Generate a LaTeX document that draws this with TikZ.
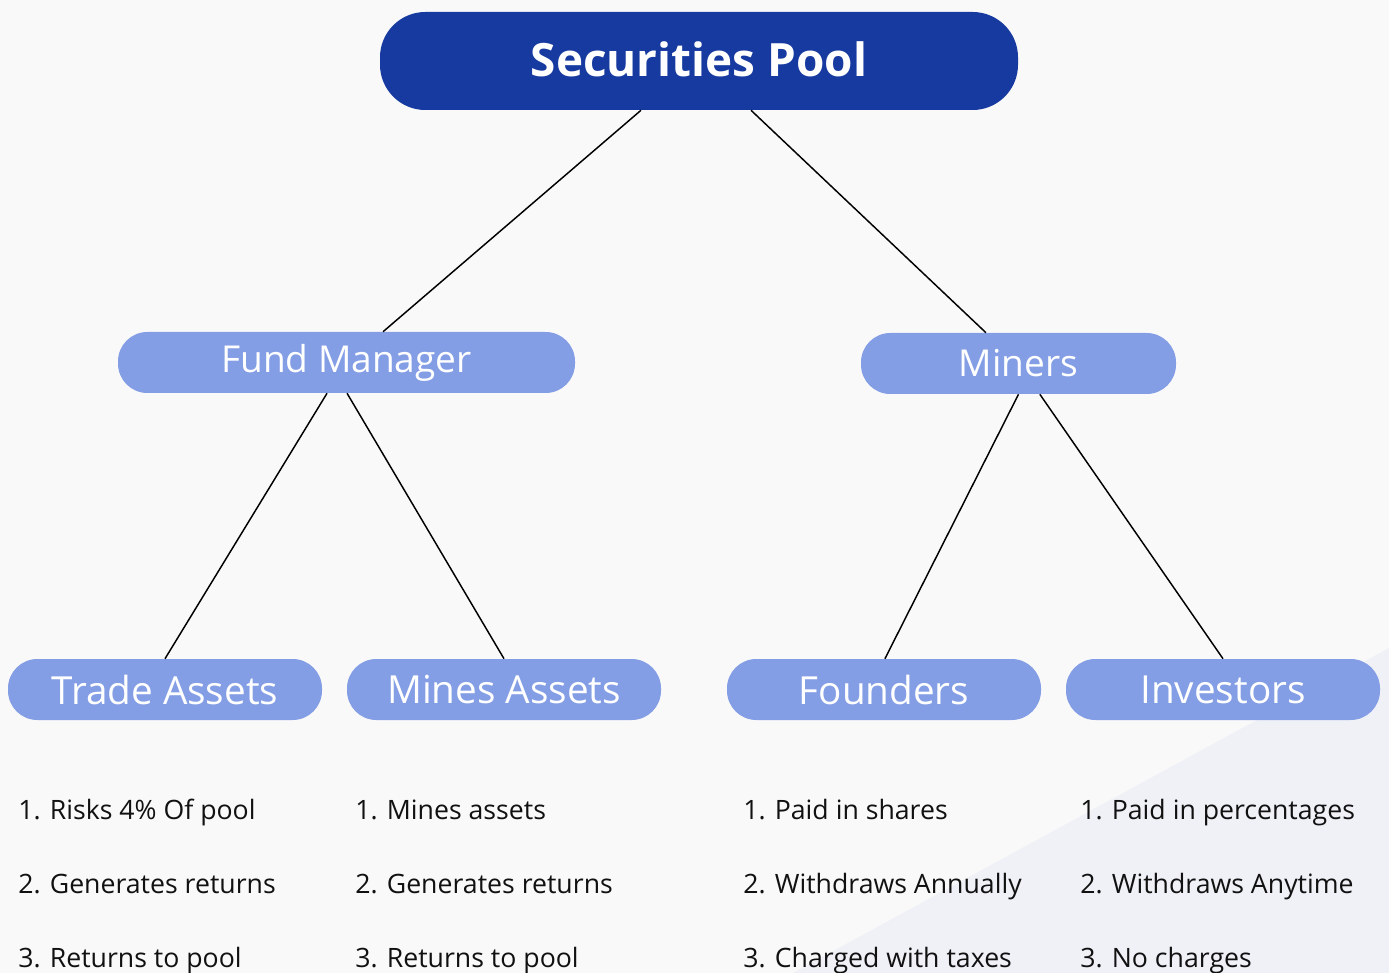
\documentclass[tikz,border=0pt]{standalone}
\usepackage{fontspec}
\setmainfont{Open Sans}
\definecolor{bgcol}{HTML}{F9F9F9}
\definecolor{trisol}{HTML}{F0F1F7}
\definecolor{rootblue}{HTML}{163A9F}
\definecolor{pillblue}{HTML}{849EE6}
\definecolor{txt}{HTML}{111111}
\tikzset{
  rootbox/.style={fill=rootblue, text=white, rounded corners=34pt, inner sep=0pt,
    minimum width=478.5pt, minimum height=73.5pt, font=\fontsize{34.4pt}{40pt}\selectfont\bfseries},
  pill/.style={fill=pillblue, text=white, rounded corners=22pt, inner sep=0pt,
    minimum height=45.75pt, font=\fontsize{27.8pt}{32pt}\selectfont},
  lowpill/.style={pill, minimum width=235.5pt, font=\fontsize{29pt}{34pt}\selectfont},
  item/.style={anchor=base west, inner sep=0pt, text=txt, font=\fontsize{20pt}{24pt}\selectfont},
  link/.style={draw=black, line width=1.1pt}
}
\begin{document}
\begin{tikzpicture}[x=0.75pt,y=-0.75pt]
\useasboundingbox (0,0) rectangle (1389,973);
\fill[bgcol] (0,0) rectangle (1389,973);
\fill[trisol] (1389,648) -- (793,973) -- (1389,973) -- cycle;

\node[rootbox] (root) at (699,61) {\raisebox{3pt}{Securities Pool}};
\node[pill, minimum width=342.75pt] (fm) at (346.5,362.5) {\raisebox{-1pt}{Fund Manager}};
\node[pill, minimum width=236.25pt] (miners) at (1018.5,363.5) {Miners};
\node[lowpill] (trade) at (165,689.5) {Trade Assets};
\node[lowpill] (mines) at (504,689.5) {Mines Assets};
\node[lowpill] (founders) at (884,689.5) {Founders};
\node[lowpill] (investors) at (1223,689.5) {Investors};

\draw[link] ([xshift=-43.5pt]root.south) -- ([xshift=27.4pt]fm.north);
\draw[link] ([xshift=39pt]root.south) -- ([xshift=-24.4pt]miners.north);
\draw[link] ([xshift=-14.6pt]fm.south) -- (trade.north);
\draw[link] ([xshift=0.4pt]fm.south) -- (mines.north);
\draw[link] (miners.south) -- ([xshift=0.7pt]founders.north);
\draw[link] ([xshift=16pt]miners.south) -- (investors.north);

\node[item] (a1) at (18,819) {1. Risks 4\% Of pool};
\node[item] (a2) at (18,893) {2. Generates returns};
\node[item] (a3) at (18,967) {3. Returns to pool};
\node[item] (b1) at (355,819) {1. Mines assets};
\node[item] (b2) at (355,893) {2. Generates returns};
\node[item] (b3) at (355,967) {3. Returns to pool};
\node[item] (c1) at (743,819) {1. Paid in shares};
\node[item] (c2) at (743,893) {2. Withdraws Annually};
\node[item] (c3) at (743,967) {3. Charged with taxes};
\node[item] (d1) at (1080,819) {1. Paid in percentages};
\node[item] (d2) at (1080,893) {2. Withdraws Anytime};
\node[item] (d3) at (1080,967) {3. No charges};
\end{tikzpicture}
\end{document}
